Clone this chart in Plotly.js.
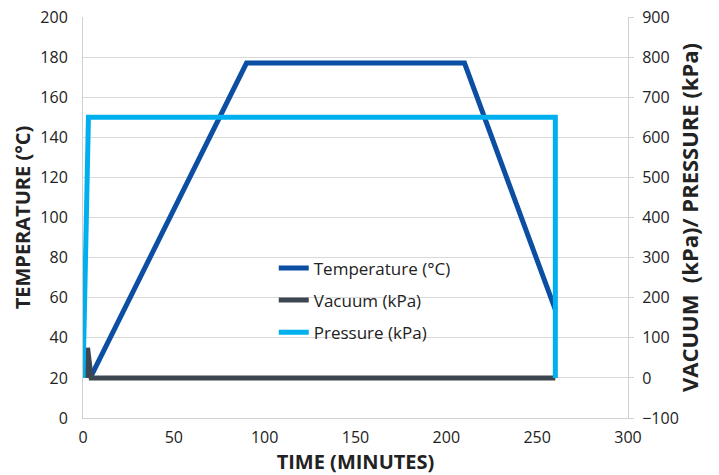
<!DOCTYPE html>
<html>
<head>
<meta charset="utf-8">
<script src="https://cdn.plot.ly/plotly-3.0.1.min.js"></script>
<style>html,body{margin:0;padding:0;background:#fff;}#chart{width:719px;height:475px;}</style>
</head>
<body>
<div id="chart"></div>
<script>
// Temperature (°C) on left axis
var tempTime = [4, 90, 210, 260];
var tempValue = [20, 177, 177, 54];
// Vacuum (kPa) on right axis
var vacTime = [2, 2.5, 4.5, 260];
var vacValue = [0, 75, 0, 0];
// Pressure (kPa) on right axis
var presTime = [0, 3, 260, 260];
var presValue = [0, 650, 650, 0];

var xTicks = [0, 50, 100, 150, 200, 250, 300];
var leftTicks = [0, 20, 40, 60, 80, 100, 120, 140, 160, 180, 200];
var rightTicks = [-100, 0, 100, 200, 300, 400, 500, 600, 700, 800, 900];

var traces = [
  {x: tempTime, y: tempValue, name: 'Temperature (°C)', mode: 'lines', yaxis: 'y', legendgroup: 'a',
   line: {color: '#0b4ea2', width: 5}},
  {x: vacTime, y: vacValue, name: 'Vacuum (kPa)', mode: 'lines', yaxis: 'y2', legendgroup: 'b',
   line: {color: '#3c4650', width: 5}},
  {x: presTime, y: presValue, name: 'Pressure (kPa)', mode: 'lines', yaxis: 'y2', legendgroup: 'c',
   line: {color: '#00b0ee', width: 5}}
];

var fontFam = '"Open Sans", "Noto Sans", sans-serif';
var layout = {
  width: 719, height: 475,
  margin: {l: 83, r: 91, t: 17, b: 57},
  paper_bgcolor: '#fff', plot_bgcolor: '#fff',
  font: {family: fontFam, size: 16, color: '#222'},
  showlegend: true,
  legend: {x: 0.35, y: 0.418, xanchor: 'left', yanchor: 'top', bgcolor: 'rgba(0,0,0,0)',
           font: {size: 17, color: '#222'}, itemwidth: 30, traceorder: 'grouped', tracegroupgap: 7},
  xaxis: {range: [0, 300], tickvals: xTicks, showgrid: false, zeroline: false,
          showline: true, linecolor: '#d0d0d0', linewidth: 1, ticks: '', ticklabelstandoff: 5,
          tickfont: {size: 16, color: '#222'},
          title: {text: '<b>TIME (MINUTES)</b>', font: {size: 20, color: '#222'}, standoff: 2}},
  yaxis: {range: [0, 200], tickvals: leftTicks, showgrid: true, gridcolor: '#d9d9d9', gridwidth: 1,
          zeroline: false, showline: true, linecolor: '#d0d0d0', ticks: '', ticklabelstandoff: 11,
          tickfont: {size: 16, color: '#222'},
          title: {text: '<b>TEMPERATURE (°C)</b>', font: {size: 20, color: '#222'}, standoff: 4}},
  yaxis2: {range: [-100, 900], tickvals: rightTicks, overlaying: 'y', side: 'right',
           showgrid: false, zeroline: false, showline: true, linecolor: '#d0d0d0',
           ticks: 'outside', ticklen: 5, tickcolor: '#d0d0d0', ticklabelstandoff: 5,
           tickfont: {size: 16, color: '#222'},
           title: {text: '<b>VACUUM&nbsp;&nbsp;(kPa)/ PRESSURE (kPa)</b>', font: {size: 22, color: '#222'}, standoff: 4}}
};

Plotly.newPlot('chart', traces, layout, {displayModeBar: false, staticPlot: true});
</script>
</body>
</html>
